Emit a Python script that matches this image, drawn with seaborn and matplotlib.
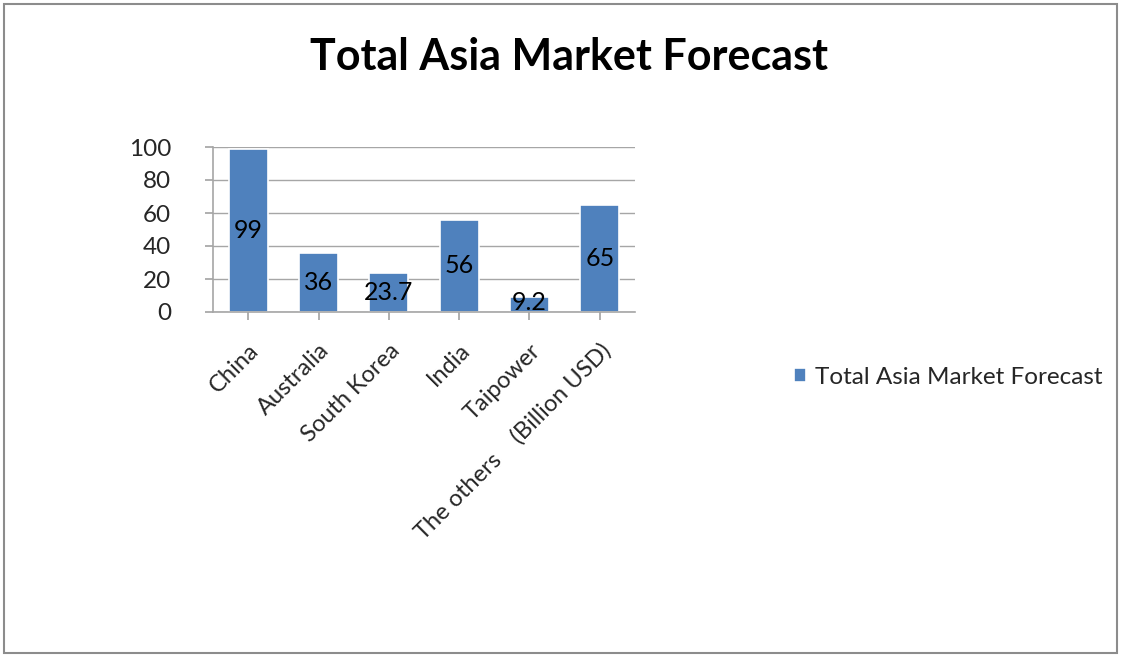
import matplotlib
matplotlib.use("Agg")
import matplotlib.pyplot as plt
import seaborn as sns
import pandas as pd
from matplotlib.patches import Rectangle

categories = ["China", "Australia", "South Korea", "India", "Taipower", "The others\u3000(Billion USD)"]
values = [99, 36, 23.7, 56, 9.2, 65]
value_labels = ["99", "36", "23.7", "56", "9.2", "65"]
series_name = "Total Asia Market Forecast"
title_text = "Total Asia Market Forecast"
yticks = [0, 20, 40, 60, 80, 100]

sns.set_theme(style="white")
plt.rcParams["font.family"] = ["Lato", "Noto Sans CJK SC", "DejaVu Sans"]

df = pd.DataFrame({"cat": categories, "val": values, "series": series_name})

fig = plt.figure(figsize=(11.21, 6.56), dpi=100)
fig.patch.set_facecolor("white")
fig.add_artist(Rectangle((0.004, 0.004), 0.992, 0.99, transform=fig.transFigure,
                         fill=False, edgecolor="#8c8c8c", linewidth=1.5))

ax = fig.add_axes([213 / 1121, 1 - 312 / 656, (635 - 213) / 1121, (312 - 147) / 656])
sns.barplot(data=df, x="cat", y="val", hue="series", palette=["#4F81BD"], saturation=1,
            width=0.55, ax=ax, edgecolor="white", linewidth=1.2, legend=True)

ax.set_ylim(0, 100)
ax.set_yticks(yticks)
ax.set_yticklabels([str(t) for t in yticks], fontsize=17.5)
ax.yaxis.grid(True, color="#a6a6a6", linewidth=1)
ax.set_axisbelow(True)
ax.set_xlabel("")
ax.set_ylabel("")
for s in ["top", "right"]:
    ax.spines[s].set_visible(False)
for s in ["left", "bottom"]:
    ax.spines[s].set_color("#a6a6a6")
    ax.spines[s].set_linewidth(1.2)
ax.tick_params(axis="both", which="both", length=6, color="#a6a6a6", direction="out",
               left=True, bottom=True)
ax.tick_params(axis="y", pad=24)
ax.tick_params(axis="x", pad=14)
ax.set_xticks(range(len(categories)))
ax.set_xticklabels(categories, rotation=45, ha="right", rotation_mode="anchor", fontsize=17)

for i, (v, lab) in enumerate(zip(values, value_labels)):
    ax.text(i, max(v / 2, 6), lab, ha="center", va="center", fontsize=18, color="black")

handles, labels = ax.get_legend_handles_labels()
ax.legend(handles, labels, loc="center left", bbox_to_anchor=(772 / 1121, 1 - 377 / 656),
          bbox_transform=fig.transFigure, frameon=False, fontsize=17.5,
          handlelength=0.5, handleheight=0.5, handletextpad=0.35)

fig.text(569 / 1121, 1 - 57 / 656, title_text, ha="center", va="center",
         fontsize=31, fontweight="bold", color="black")

fig.savefig("out.png", dpi=100, facecolor="white")
